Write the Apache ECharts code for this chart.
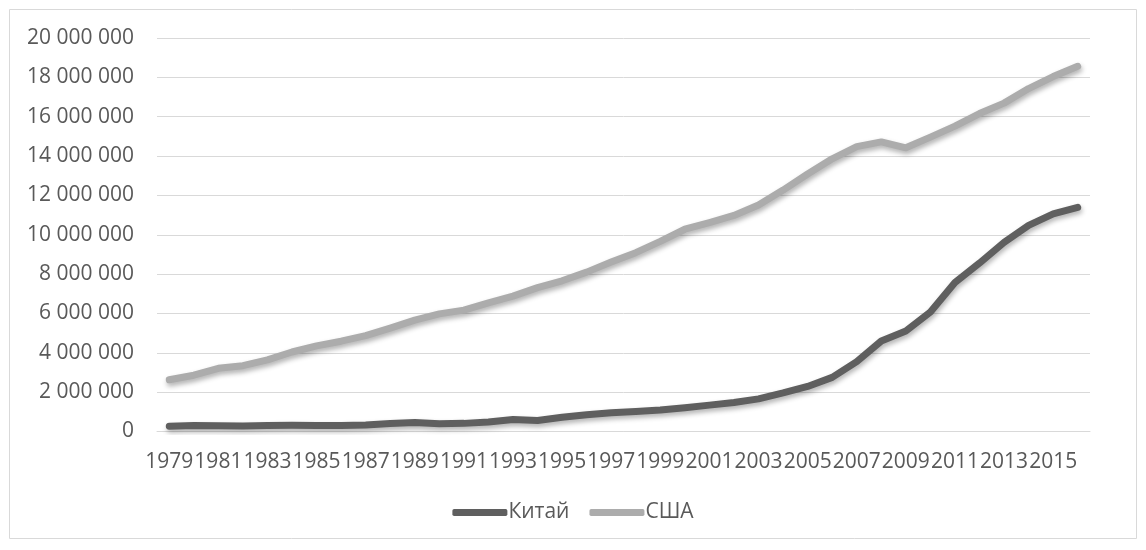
<!DOCTYPE html>
<html>
<head>
<meta charset="utf-8">
<script src="https://cdn.jsdelivr.net/npm/echarts@6/dist/echarts.min.js"></script>
<style>
  html, body { margin: 0; padding: 0; background: #fff; }
  #chart { width: 1146px; height: 550px; }
</style>
</head>
<body>
<div id="chart"></div>
<script>
  // годы по оси X
  var years = ['1979','1980','1981','1982','1983','1984','1985','1986','1987','1988',
    '1989','1990','1991','1992','1993','1994','1995','1996','1997','1998',
    '1999','2000','2001','2002','2003','2004','2005','2006','2007','2008',
    '2009','2010','2011','2012','2013','2014','2015','2016'];

  // Китай
  var china = [270000, 305000, 290000, 285000, 305000, 314000, 311000, 301000, 328000, 408000,
    458000, 397000, 413000, 488000, 613000, 559000, 728000, 856000, 953000, 1020000,
    1090000, 1210000, 1340000, 1470000, 1660000, 1960000, 2290000, 2750000, 3550000, 4600000,
    5110000, 6070000, 7570000, 8560000, 9610000, 10480000, 11060000, 11390000];

  // США
  var usa = [2630000, 2860000, 3210000, 3345000, 3640000, 4040000, 4350000, 4590000, 4870000, 5250000,
    5660000, 5980000, 6170000, 6540000, 6880000, 7310000, 7660000, 8100000, 8610000, 9090000,
    9660000, 10280000, 10620000, 10980000, 11510000, 12270000, 13090000, 13860000, 14480000, 14720000,
    14420000, 14960000, 15520000, 16160000, 16690000, 17430000, 18040000, 18560000];

  var yTicks = { min: 0, max: 20000000, interval: 2000000 };

  function spaced(v) {
    return String(v).replace(/\B(?=(\d{3})+(?!\d))/g, ' ');
  }

  var chart = echarts.init(document.getElementById('chart'));
  chart.setOption({
    animation: false,
    textStyle: { fontFamily: 'Open Sans' },
    graphic: [{
      type: 'rect',
      shape: { x: 9.5, y: 9.5, width: 1127, height: 529 },
      style: { fill: 'none', stroke: '#d9d9d9', lineWidth: 1 },
      silent: true
    }],
    grid: { left: 157, right: 56, top: 38, bottom: 118.5 },
    legend: {
      bottom: 22,
      left: 'center',
      icon: 'roundRect',
      itemWidth: 55,
      itemHeight: 7,
      itemGap: 20,
      textStyle: { fontSize: 21, color: '#595959', padding: [0, 0, 0, -4] },
      data: ['Китай', 'США']
    },
    xAxis: {
      type: 'category',
      data: years,
      boundaryGap: true,
      axisLine: { lineStyle: { color: '#d9d9d9' } },
      axisTick: { show: false },
      axisLabel: { interval: 1, color: '#595959', fontSize: 21, margin: 20 }
    },
    yAxis: {
      type: 'value',
      min: yTicks.min,
      max: yTicks.max,
      interval: yTicks.interval,
      axisLine: { show: false },
      axisTick: { show: false },
      axisLabel: { color: '#595959', fontSize: 21, margin: 23, formatter: spaced },
      splitLine: { lineStyle: { color: '#d9d9d9', width: 1 } }
    },
    series: [
      {
        name: 'Китай',
        type: 'line',
        data: china,
        showSymbol: false,
        color: '#5f5f5f',
        lineStyle: {
          width: 7, cap: 'round', join: 'round',
          shadowColor: 'rgba(0,0,0,0.3)', shadowBlur: 5, shadowOffsetX: 1, shadowOffsetY: 3
        }
      },
      {
        name: 'США',
        type: 'line',
        data: usa,
        showSymbol: false,
        color: '#acacac',
        lineStyle: {
          width: 7, cap: 'round', join: 'round',
          shadowColor: 'rgba(0,0,0,0.3)', shadowBlur: 5, shadowOffsetX: 1, shadowOffsetY: 3
        }
      }
    ]
  });
</script>
</body>
</html>
